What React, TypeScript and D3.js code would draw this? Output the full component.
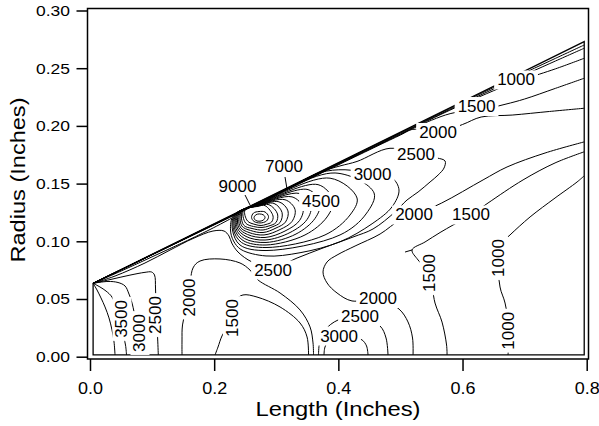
import {
    axisBottom,
    axisLeft,
    curveCatmullRom,
    curveCatmullRomClosed,
    format,
    line,
    scaleLinear,
    select,
} from "d3";
import React, { useEffect, useRef } from "react";

type Pt = [number, number];

// tick values
const xTicks = [0, 0.2, 0.4, 0.6, 0.8];
const yTicks = [0, 0.05, 0.1, 0.15, 0.2, 0.25, 0.3];

// cone outline (length, radius)
const cone: Pt[] = [[0.005, 0.0015], [0.005, 0.0636], [0.796, 0.273], [0.796, 0.0015]];

// lines hugging the cone surface, tip to base
const surfaceA: Pt[] = [[0.005, 0.0636], [0.25, 0.1282], [0.5, 0.1942], [0.65, 0.2333], [0.75, 0.2586], [0.796, 0.2701]];
const surfaceB: Pt[] = [[0.005, 0.0636], [0.25, 0.128], [0.5, 0.1937], [0.65, 0.232], [0.75, 0.2563], [0.796, 0.2673]];
const upper1000: Pt[] = [[0.005, 0.0636], [0.25, 0.1277], [0.5, 0.1931], [0.6, 0.2187], [0.65, 0.2305], [0.68, 0.2371], [0.7, 0.2407], [0.75, 0.2495], [0.796, 0.2586]];
const upper1500: Pt[] = [[0.005, 0.0636], [0.25, 0.1275], [0.5, 0.1926], [0.55, 0.2049], [0.58, 0.2106], [0.61, 0.2134], [0.64, 0.2152], [0.67, 0.2189], [0.7, 0.2233], [0.75, 0.2326], [0.796, 0.2413]];
const upper2000: Pt[] = [[0.005, 0.0636], [0.25, 0.1272], [0.5, 0.1921], [0.52, 0.197], [0.56, 0.1943], [0.6, 0.2012], [0.63, 0.2077], [0.68, 0.2094], [0.74, 0.2125], [0.796, 0.2153]];

// strand from the tip into the hot spot
const tipFan: Pt[] = [[0.005, 0.0636], [0.0483, 0.0738], [0.0966, 0.0857], [0.145, 0.0977], [0.1933, 0.1102], [0.2287, 0.1202]];

// 2500 contour: leaves the tip, wraps the hot spot, returns along the surface
const loop2500: Pt[] = [
    [0.005, 0.0636], [0.0403, 0.0699], [0.0886, 0.0812], [0.1289, 0.0924], [0.1659, 0.1024], [0.1981, 0.1089],
    [0.2159, 0.1089], [0.2239, 0.1046], [0.2283, 0.0985], [0.2384, 0.0907], [0.2609, 0.0821], [0.2948, 0.0769],
    [0.3335, 0.0855], [0.3753, 0.0942], [0.4236, 0.1037], [0.4559, 0.1107], [0.4913, 0.1254], [0.5106, 0.1358],
    [0.5284, 0.1427], [0.5477, 0.1514], [0.5606, 0.1574], [0.5702, 0.1635], [0.5719, 0.1696], [0.559, 0.1722],
    [0.5251, 0.1752], [0.4832, 0.1806], [0.4301, 0.1692], [0.4027, 0.1653], [0.3705, 0.1599], [0.3222, 0.1471],
    [0.2706, 0.1335], [0.2295, 0.1227], [0.1772, 0.1088], [0.0966, 0.0875], [0.005, 0.0636],
];

// closed rings round the peak
const ring3000: Pt[] = [[0.2263, 0.1098], [0.2312, 0.1224], [0.2706, 0.1332], [0.3222, 0.1468], [0.3705, 0.1595], [0.4108, 0.162], [0.4543, 0.1583], [0.4865, 0.1549], [0.4977, 0.1445], [0.4865, 0.1299], [0.4543, 0.1152], [0.4027, 0.0996], [0.3383, 0.0901], [0.2835, 0.0873], [0.2432, 0.0929], [0.2312, 0.1003]];
const ring3500: Pt[] = [[0.2295, 0.1098], [0.2328, 0.1228], [0.2706, 0.1325], [0.3947, 0.1592], [0.4575, 0.1419], [0.4446, 0.1237], [0.4027, 0.1055], [0.2835, 0.092], [0.2416, 0.0968]];
const ring4000: Pt[] = [[0.2312, 0.1102], [0.2344, 0.1232], [0.2706, 0.1322], [0.3866, 0.1547], [0.4301, 0.1375], [0.4188, 0.1228], [0.3785, 0.1055], [0.2835, 0.0946], [0.244, 0.099]];
const ring4500: Pt[] = [[0.2331, 0.1107], [0.236, 0.1237], [0.2706, 0.132], [0.3673, 0.1491], [0.3914, 0.1354], [0.3818, 0.1211], [0.3463, 0.1055], [0.2835, 0.0968], [0.2465, 0.1007]];
const ring5000: Pt[] = [[0.2352, 0.1111], [0.2376, 0.1241], [0.2706, 0.1318], [0.3512, 0.1448], [0.3705, 0.1328], [0.3624, 0.1198], [0.3318, 0.1063], [0.2835, 0.099], [0.2489, 0.1024]];
const ring5500: Pt[] = [[0.2373, 0.1115], [0.2392, 0.1245], [0.2706, 0.1316], [0.3383, 0.1414], [0.356, 0.131], [0.3496, 0.1189], [0.3222, 0.1076], [0.2819, 0.1011], [0.2513, 0.1042]];
const ring6000: Pt[] = [[0.2395, 0.112], [0.2408, 0.125], [0.2706, 0.1314], [0.3254, 0.1385], [0.3431, 0.1293], [0.3375, 0.118], [0.3141, 0.1089], [0.2819, 0.1033], [0.2537, 0.1059]];
const ring6500: Pt[] = [[0.242, 0.1124], [0.2424, 0.1254], [0.2706, 0.1312], [0.3141, 0.136], [0.3302, 0.1276], [0.3254, 0.1172], [0.3061, 0.1102], [0.2803, 0.1055], [0.2561, 0.1076]];
const ring7000: Pt[] = [[0.2445, 0.1133], [0.244, 0.1258], [0.2706, 0.1309], [0.3044, 0.1342], [0.3189, 0.1263], [0.3149, 0.1167], [0.2996, 0.1115], [0.2787, 0.1076], [0.2585, 0.1094]];
const ring7500: Pt[] = [[0.2473, 0.1141], [0.2457, 0.1263], [0.2706, 0.1308], [0.2964, 0.1328], [0.3093, 0.125], [0.3061, 0.1163], [0.2932, 0.1124], [0.2787, 0.1098], [0.261, 0.1111]];
const ring8000: Pt[] = [[0.2505, 0.1159], [0.2473, 0.1267], [0.2706, 0.1306], [0.2883, 0.1317], [0.302, 0.1237], [0.2996, 0.1163], [0.2883, 0.1133], [0.2771, 0.112], [0.2634, 0.1128]];
const ring8500: Pt[] = [[0.2537, 0.1176], [0.2497, 0.1271], [0.2706, 0.1303], [0.2819, 0.1309], [0.2948, 0.1219], [0.2924, 0.1167], [0.2835, 0.1146], [0.2755, 0.1137], [0.2658, 0.1146]];
const ring9000: Pt[] = [[0.2602, 0.1206], [0.2634, 0.1245], [0.2722, 0.1258], [0.2819, 0.1254], [0.2875, 0.1215], [0.2843, 0.1176], [0.2738, 0.1159], [0.2642, 0.1172]];
const ring9500: Pt[] = [[0.2642, 0.1206], [0.2674, 0.123], [0.273, 0.1237], [0.2795, 0.1228], [0.2819, 0.1206], [0.2787, 0.1182], [0.2722, 0.1174], [0.2666, 0.1182]];

// contours in the lower / aft part
const right2000: Pt[] = [[0.5203, 0.0015], [0.5195, 0.0162], [0.5122, 0.0301], [0.4977, 0.0413], [0.4639, 0.0504], [0.422, 0.0483], [0.3979, 0.0552], [0.3818, 0.0639], [0.3753, 0.0734], [0.3818, 0.0821], [0.3979, 0.0881], [0.4269, 0.0959], [0.4672, 0.1063], [0.4994, 0.1185], [0.5219, 0.1228], [0.5665, 0.1332], [0.6331, 0.1532], [0.6717, 0.1644], [0.7329, 0.1765], [0.7957, 0.1861]];
const right1500: Pt[] = [[0.5751, 0.0015], [0.5743, 0.0101], [0.567, 0.03], [0.5557, 0.0465], [0.5461, 0.0725], [0.5284, 0.0838], [0.5187, 0.0925], [0.5396, 0.0994], [0.5638, 0.1076], [0.5847, 0.1141], [0.6137, 0.1228], [0.6411, 0.1332], [0.6975, 0.1532], [0.749, 0.1679], [0.7957, 0.1775]];
const spur1500: Pt[] = [[0.5187, 0.0925], [0.5074, 0.0907]];
const right1000: Pt[] = [[0.6733, 0.0015], [0.6741, 0.0249], [0.6685, 0.0465], [0.6604, 0.0604], [0.658, 0.0855], [0.6653, 0.0994], [0.6765, 0.1055], [0.7088, 0.1211], [0.749, 0.1375], [0.7845, 0.1514], [0.7957, 0.1566]];
const left2000: Pt[] = [[0.1482, 0.0015], [0.1482, 0.0145], [0.149, 0.0275], [0.1595, 0.0517], [0.1659, 0.0769], [0.1772, 0.0829], [0.2094, 0.0847], [0.2416, 0.0812], [0.2577, 0.0751], [0.2706, 0.0665], [0.3061, 0.0552], [0.3383, 0.0405], [0.3544, 0.0258], [0.3592, 0.0119], [0.36, 0.0015]];
const dome1500: Pt[] = [[0.2014, 0.0015], [0.2062, 0.0084], [0.2126, 0.018], [0.2295, 0.0335], [0.2352, 0.0491], [0.2464, 0.0535], [0.269, 0.0517], [0.3061, 0.0431], [0.3383, 0.0292], [0.3496, 0.0171], [0.352, 0.0015]];
const foot2500: Pt[] = [[0.3681, 0.0015], [0.3697, 0.0119], [0.3785, 0.0231], [0.3995, 0.0318], [0.4349, 0.0348], [0.4672, 0.0266], [0.4768, 0.0162], [0.48, 0.0015]];
const foot3000: Pt[] = [[0.3769, 0.0015], [0.3785, 0.0084], [0.3866, 0.0153], [0.4011, 0.0179], [0.422, 0.0171], [0.4382, 0.0145], [0.4454, 0.0093], [0.4478, 0.0015]];

// contours fanning down from the tip
const tip4000: Pt[] = [[0.005, 0.0636], [0.0113, 0.0578], [0.0177, 0.0509], [0.0242, 0.0431], [0.0306, 0.0336], [0.0354, 0.0232], [0.0387, 0.0128], [0.0403, 0.0015]];
const tip3500: Pt[] = [[0.005, 0.0636], [0.0161, 0.0604], [0.0258, 0.0569], [0.0354, 0.0517], [0.0451, 0.0387], [0.0515, 0.0232], [0.0572, 0.0101], [0.0588, 0.0015]];
const tip3000: Pt[] = [[0.005, 0.0636], [0.029, 0.0652], [0.0451, 0.0643], [0.0564, 0.0613], [0.0628, 0.0543], [0.0677, 0.0465], [0.0741, 0.03], [0.0789, 0.0145], [0.0805, 0.0015]];
const tip2500: Pt[] = [[0.005, 0.0636], [0.0322, 0.0668], [0.0644, 0.0707], [0.0886, 0.0731], [0.0991, 0.0734], [0.1039, 0.0708], [0.1055, 0.0595], [0.1063, 0.0405], [0.1087, 0.0188], [0.11, 0.0015]];

// leader lines for the tagged labels
const leader9000: Pt[] = [[0.2497, 0.1401], [0.2577, 0.1315]];
const leader7000: Pt[] = [[0.3141, 0.1557], [0.3173, 0.1453]];

// contour labels: text, length, radius, rotation
const contourLabels: [string, number, number, number][] = [
    ["1000", 0.6862, 0.2398, 0],
    ["1500", 0.6226, 0.2168, 0],
    ["2000", 0.5606, 0.1943, 0],
    ["2500", 0.5251, 0.1752, 0],
    ["3000", 0.4551, 0.1583, 0],
    ["7000", 0.3125, 0.1646, 0],
    ["9000", 0.2376, 0.1479, 0],
    ["4500", 0.3721, 0.1345, 0],
    ["2000", 0.5219, 0.1228, 0],
    ["1500", 0.6137, 0.1228, 0],
    ["2500", 0.2948, 0.0751, 0],
    ["2000", 0.4639, 0.0504, 0],
    ["2500", 0.4349, 0.0348, 0],
    ["3000", 0.4011, 0.0179, 0],
    ["3500", 0.0515, 0.0327, -90],
    ["3000", 0.0805, 0.0205, -90],
    ["2500", 0.1052, 0.0361, -90],
    ["2000", 0.1595, 0.0513, -90],
    ["1500", 0.2295, 0.0335, -90],
    ["1500", 0.5461, 0.0725, -90],
    ["1000", 0.658, 0.0855, -90],
    ["1000", 0.6741, 0.0225, -90],
];

const openLines = [
    surfaceA, surfaceB, upper1000, upper1500, upper2000, tipFan, loop2500,
    right2000, right1500, spur1500, right1000, left2000, dome1500, foot2500, foot3000,
    tip4000, tip3500, tip3000, tip2500,
];
const rings = [
    ring3000, ring3500, ring4000, ring4500, ring5000, ring5500, ring6000,
    ring6500, ring7000, ring7500, ring8000, ring8500, ring9000, ring9500,
];

const font = "'Liberation Sans', Arial, Helvetica, sans-serif";

const App: React.FC = () => {
    const svgRef = useRef<SVGSVGElement>(null);

    useEffect(() => {
        const svg = select(svgRef.current);
        svg.selectAll("*").remove();

        const x = scaleLinear().domain([0, 0.8]).range([90, 586.7]);
        const y = scaleLinear().domain([0, 0.3]).range([356.7, 10.5]);

        const smooth = line<Pt>().x(d => x(d[0])).y(d => y(d[1])).curve(curveCatmullRom.alpha(0.5));
        const loop = line<Pt>().x(d => x(d[0])).y(d => y(d[1])).curve(curveCatmullRomClosed.alpha(0.5));
        const straight = line<Pt>().x(d => x(d[0])).y(d => y(d[1]));

        const lines = svg.append("g").attr("fill", "none").attr("stroke", "#000").attr("stroke-width", 1);
        openLines.forEach(l => lines.append("path").attr("d", smooth(l)));
        rings.forEach(r => lines.append("path").attr("d", loop(r)));

        svg.append("path")
            .attr("d", straight(cone) + "Z")
            .attr("fill", "none")
            .attr("stroke", "#000")
            .attr("stroke-width", 1.3);

        // labels sit on white boxes that blank the lines under them
        contourLabels.forEach(([t, lx, ly, a]) => {
            const lg = svg.append("g").attr("transform", `translate(${x(lx)},${y(ly)}) rotate(${a})`);
            const bg = lg.append("rect").attr("fill", "#fff");
            const txt = lg.append("text")
                .attr("text-anchor", "middle")
                .attr("dominant-baseline", "central")
                .attr("font-family", font)
                .attr("font-size", 17)
                .attr("fill", "#000")
                .text(t);
            const bb = (txt.node() as SVGTextElement).getBBox();
            bg.attr("x", bb.x - 3).attr("y", bb.y).attr("width", bb.width + 6).attr("height", bb.height);
        });

        [leader9000, leader7000].forEach(l =>
            svg.append("path").attr("d", straight(l)).attr("stroke", "#000").attr("stroke-width", 1),
        );

        // frame
        svg.append("rect")
            .attr("x", 87.5)
            .attr("y", 8.5)
            .attr("width", 501)
            .attr("height", 350.5)
            .attr("fill", "none")
            .attr("stroke", "#000")
            .attr("stroke-width", 1.5);

        const xAxis = svg.append("g")
            .attr("transform", "translate(0,359)")
            .call(axisBottom(x).tickValues(xTicks).tickSize(12).tickPadding(11).tickFormat(format(".1f")));
        xAxis.select(".domain").remove();
        xAxis.selectAll(".tick line").attr("stroke-width", 1.5);
        xAxis.selectAll(".tick text")
            .attr("font-size", 16.3)
            .attr("font-family", font)
            .attr("fill", "#000")
            .attr("textLength", 25)
            .attr("lengthAdjust", "spacingAndGlyphs");

        const yAxis = svg.append("g")
            .attr("transform", "translate(87.5,0)")
            .call(axisLeft(y).tickValues(yTicks).tickSize(11).tickPadding(6.5).tickFormat(format(".2f")));
        yAxis.select(".domain").remove();
        yAxis.selectAll(".tick line").attr("stroke-width", 1.5);
        yAxis.selectAll(".tick text")
            .attr("font-size", 15)
            .attr("font-family", font)
            .attr("fill", "#000")
            .attr("textLength", 34)
            .attr("lengthAdjust", "spacingAndGlyphs");

        svg.append("text")
            .attr("x", 338)
            .attr("y", 415.5)
            .attr("text-anchor", "middle")
            .attr("font-family", font)
            .attr("font-size", 20)
            .attr("textLength", 165)
            .attr("lengthAdjust", "spacingAndGlyphs")
            .text("Length (Inches)");

        svg.append("text")
            .attr("transform", "translate(25,180) rotate(-90)")
            .attr("text-anchor", "middle")
            .attr("font-family", font)
            .attr("font-size", 21)
            .attr("textLength", 165)
            .attr("lengthAdjust", "spacingAndGlyphs")
            .text("Radius (Inches)");
    }, []);

    return (
        <svg
            ref={svgRef}
            width={599}
            height={426}
            style={{ position: "absolute", left: 0, top: 0, background: "#fff" }}
        />
    );
};

export default App;
